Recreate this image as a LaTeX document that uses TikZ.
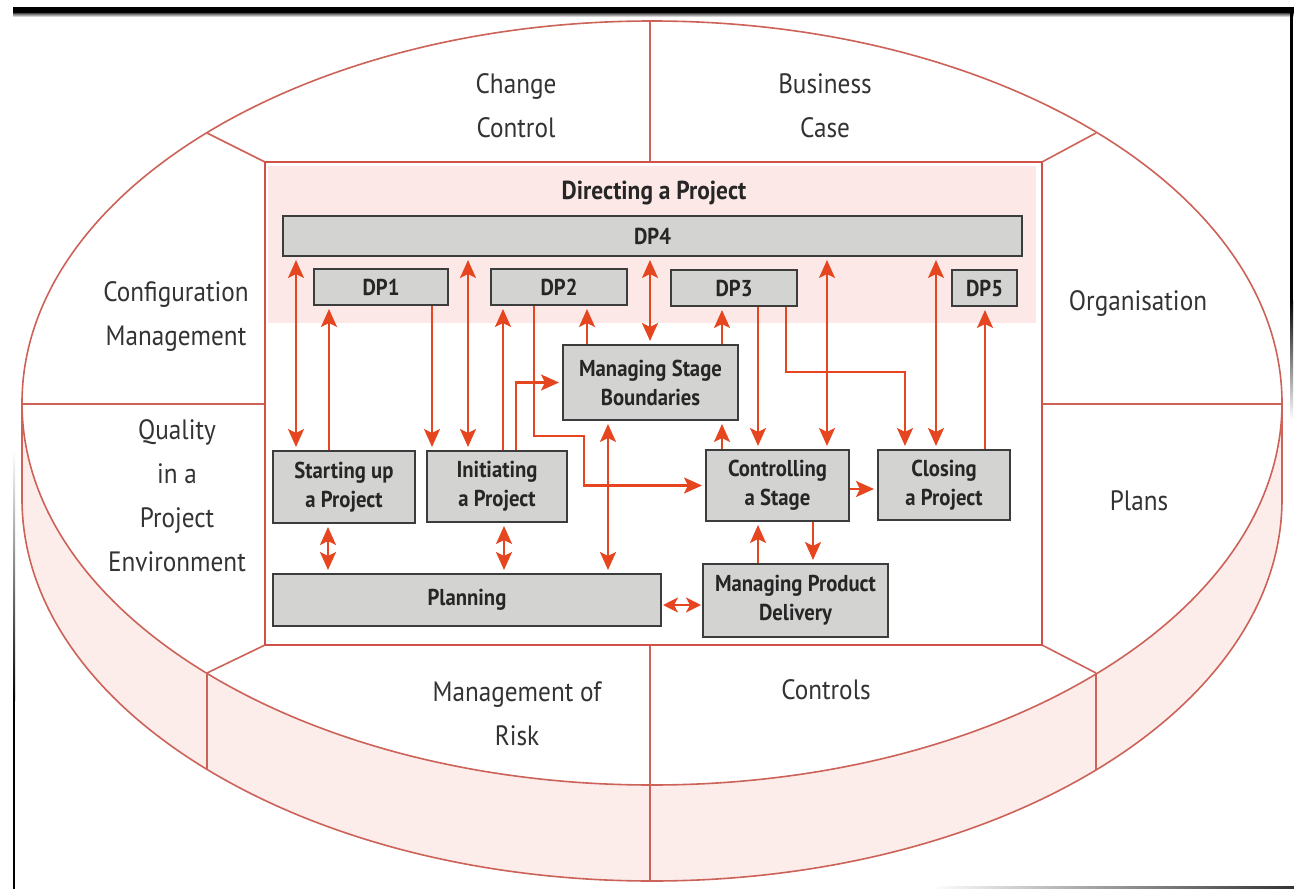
\documentclass[tikz,border=0pt]{standalone}
\usepackage{fontspec}
\setmainfont{PT Sans}[FakeStretch=0.9]
\usetikzlibrary{arrows.meta}
\definecolor{ell}{HTML}{CC6258}
\definecolor{boxred}{HTML}{CF5147}
\definecolor{pinkf}{HTML}{FCE9E7}
\definecolor{bandf}{HTML}{FCEDEB}
\definecolor{gfill}{HTML}{D3D3D1}
\definecolor{gedge}{HTML}{3C3C3C}
\definecolor{arrc}{HTML}{E5461F}
\definecolor{txt}{HTML}{333333}
\tikzset{
  lbl/.style={text=txt, align=center, inner sep=0pt, font=\fontsize{28}{44}\selectfont},
  pbox/.style={draw=gedge, fill=gfill, line width=2pt, inner sep=0pt, align=center,
    text=black!85, font=\bfseries\fontsize{23}{29}\selectfont},
  tip/.tip={Stealth[length=18pt,width=16pt,inset=4pt]},
  stip/.tip={Stealth[length=15pt,width=15pt,inset=4pt]},
  arr/.style={draw=arrc, line width=2.4pt, -tip, shorten >=3pt},
  dbl/.style={draw=arrc, line width=2.4pt, tip-tip, shorten >=3pt, shorten <=3pt},
  sdbl/.style={draw=arrc, line width=2.4pt, stip-stip, shorten >=1pt, shorten <=1pt},
  ellline/.style={draw=ell, line width=1.6pt}
}
\begin{document}
\begin{tikzpicture}[x=1pt,y=-1pt]
\useasboundingbox (0,0) rectangle (1294,889);
\fill[white] (0,0) rectangle (1294,889);

% cylinder band
\fill[bandf] (22,403) -- (22,499) arc[start angle=180,end angle=360,x radius=630pt,y radius=382pt]
  -- (1282,403) arc[start angle=0,end angle=-180,x radius=630pt,y radius=382pt] -- cycle;
\draw[ellline] (22,403) -- (22,499) arc[start angle=180,end angle=360,x radius=630pt,y radius=382pt] -- (1282,403);
\draw[ellline] (652,403) ellipse [x radius=630pt, y radius=382pt];

% section dividers
\draw[ellline] (650,21) -- (650,162);
\draw[ellline] (207,133) -- (265,162);
\draw[ellline] (1096,133) -- (1042,162);
\draw[ellline] (22,404) -- (265,404);
\draw[ellline] (1042,404) -- (1282,404);
\draw[ellline] (265,645) -- (207,673);
\draw[ellline] (1042,645) -- (1096,673);
\draw[ellline] (650,645) -- (650,881);
\draw[ellline] (207,673) -- (207,770);
\draw[ellline] (1096,673) -- (1096,770);

% inner frame
\draw[draw=boxred, line width=2pt, fill=white] (265,162) rectangle (1042,645);
\fill[pinkf] (268,166) rectangle (1036,323);

% outer labels
\node[lbl] (cc) at (516,106) {Change\\Control};
\node[lbl] (bc) at (825,106) {Business\\Case};
\node[lbl] (cm) at (176,316) {Configuration\\Management};
\node[lbl] (qp) at (177,496) {Quality\\in a\\Project\\Environment};
\node[lbl] (org) at (1138,303) {Organisation};
\node[lbl] (pl) at (1139,501) {Plans};
\node[lbl] (mr) at (517,714) {Management of\\Risk};
\node[lbl] (ct) at (826,690) {Controls};

\node[text=black!85, inner sep=0pt, font=\bfseries\fontsize{26}{29}\selectfont] (dir) at (654,193) {Directing a Project};

% process boxes
\node[pbox, minimum width=739pt, minimum height=40pt] (dp4) at (652.5,236) {DP4};
\node[pbox, minimum width=134pt, minimum height=36pt] (dp1) at (381,287) {DP1};
\node[pbox, minimum width=136pt, minimum height=36pt] (dp2) at (559,287) {DP2};
\node[pbox, minimum width=126pt, minimum height=36pt] (dp3) at (734,288) {DP3};
\node[pbox, minimum width=65pt, minimum height=36pt] (dp5) at (984.5,288) {DP5};
\node[pbox, minimum width=175pt, minimum height=75pt] (msb) at (650.5,382.5) {Managing Stage\\Boundaries};
\node[pbox, minimum width=143pt, minimum height=71pt] (cs) at (777.5,485.5) {Controlling\\a Stage};
\node[pbox, minimum width=132pt, minimum height=70pt] (cp) at (944,485) {Closing\\a Project};
\node[pbox, minimum width=142pt, minimum height=72pt] (sp) at (344,487) {Starting up\\a Project};
\node[pbox, minimum width=140pt, minimum height=71pt] (ip) at (497,486.5) {Initiating\\a Project};
\node[pbox, minimum width=388pt, minimum height=52pt] (pln) at (467,600) {Planning};
\node[pbox, minimum width=185pt, minimum height=73pt] (mpd) at (795.5,600.5) {Managing Product\\Delivery};

% connectors
\draw[dbl] (296,0 |- dp4.south) -- (296,0 |- sp.north);
\draw[arr] (329,0 |- sp.north) -- (329,0 |- dp1.south);
\draw[arr] (432,0 |- dp1.south) -- (432,0 |- ip.north);
\draw[dbl] (468,0 |- dp4.south) -- (468,0 |- ip.north);
\draw[arr] (503,0 |- ip.north) -- (503,0 |- dp2.south);
\draw[arr] (516,0 |- ip.north) |- (msb.west);
\draw[arr] (534,0 |- dp2.south) -- (534,436) -- (584,436) |- (cs.west);
\draw[arr] (587,0 |- msb.north) -- (587,0 |- dp2.south);
\draw[dbl] (650,0 |- dp4.south) -- (650,0 |- msb.north);
\draw[arr] (722,0 |- msb.north) -- (722,0 |- dp3.south);
\draw[arr] (722,0 |- cs.north) -- (722,0 |- msb.south);
\draw[dbl] (608,0 |- pln.north) -- (608,0 |- msb.south);
\draw[arr] (758,0 |- dp3.south) -- (758,0 |- cs.north);
\draw[dbl] (827,0 |- dp4.south) -- (827,0 |- cs.north);
\draw[arr] (786,0 |- dp3.south) |- (905,372) -- (905,0 |- cp.north);
\draw[dbl] (936,0 |- dp4.south) -- (936,0 |- cp.north);
\draw[arr] (985,0 |- cp.north) -- (985,0 |- dp5.south);
\draw[arr] (cs.east |- 0,489) -- (cp.west |- 0,489);
\draw[arr] (758,0 |- mpd.north) -- (758,0 |- cs.south);
\draw[arr] (813,0 |- cs.south) -- (813,0 |- mpd.north);
\draw[sdbl] (pln.east |- 0,605) -- (mpd.west |- 0,605);
\draw[dbl] (328,0 |- sp.south) -- (328,0 |- pln.north);
\draw[dbl] (504,0 |- ip.south) -- (504,0 |- pln.north);

% scan borders
\fill[black] (13,7) rectangle (1294,13);
\shade[top color=black!70, bottom color=white] (13,13) rectangle (1294,17);
\fill[black] (1290,7) rectangle (1293,300);
\shade[top color=black, bottom color=white] (1290,300) rectangle (1293,420);
\shade[top color=white, bottom color=black] (13,450) rectangle (15,700);
\fill[black] (13,700) rectangle (15,889);
\shade[left color=white, right color=black!80] (930,886) rectangle (1294,889);
\end{tikzpicture}
\end{document}
